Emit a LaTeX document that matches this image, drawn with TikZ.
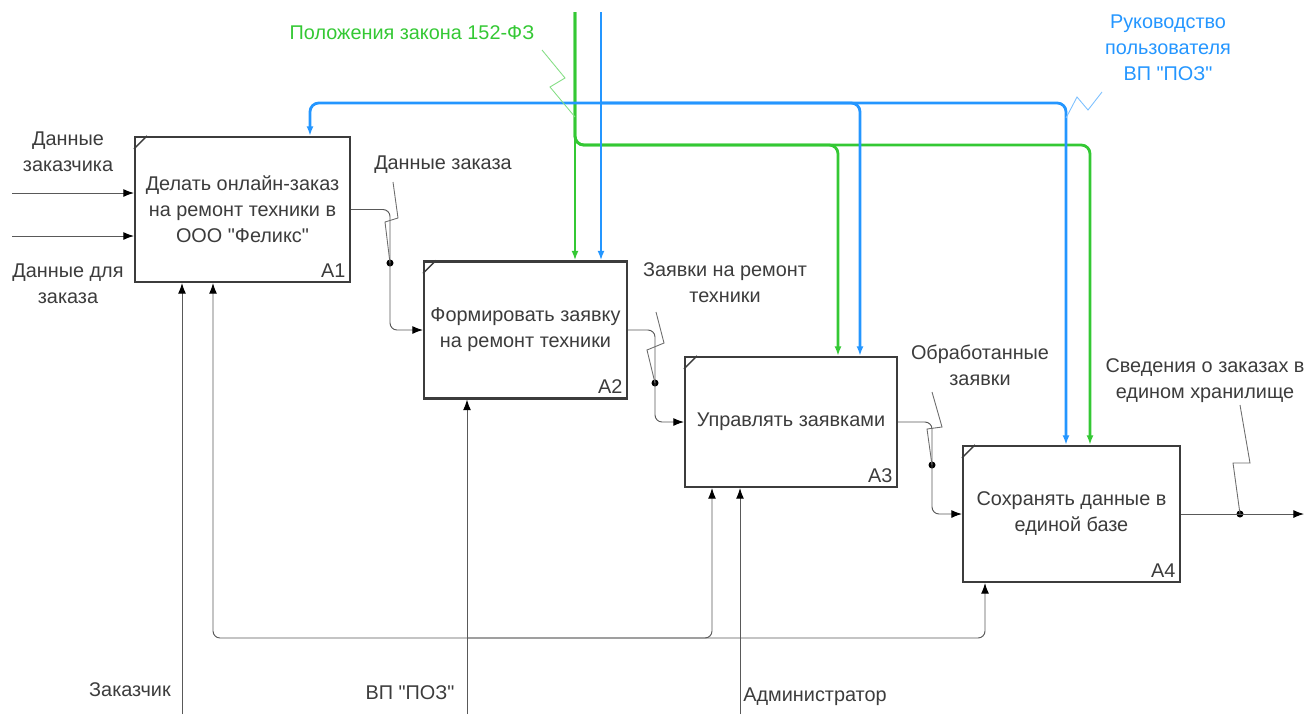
\documentclass[tikz,border=0pt]{standalone}
\usepackage{fontspec}
\setmainfont{Liberation Sans}
\usetikzlibrary{arrows.meta,calc}

\definecolor{ctlgreen}{RGB}{52,200,52}
\definecolor{ctlblue}{RGB}{36,150,255}
\definecolor{idefgray}{RGB}{60,60,60}
\newcommand\diagfont{\fontsize{11.3}{14.8}\selectfont}
\newcommand\qq{\textquotedbl}

\begin{document}
\begin{tikzpicture}[
    x=0.02cm, y=-0.02cm,
    >={Latex[length=5.5pt,width=4pt]},
    func/.style 2 args={
        rectangle,
        draw=idefgray,
        line width=1.2pt,
        fill=white,
        minimum width=#1,
        minimum height=#2,
        font=\diagfont,
        text=idefgray,
        align=center
    },
    lbl/.style={
        font=\diagfont,
        text=idefgray,
        align=center
    },
    flow/.style={-{Latex[length=6pt,width=4.5pt,color=black]},draw=idefgray!85,line width=0.55pt,rounded corners=4pt},
    gflow/.style={->,draw=ctlgreen,line width=1.6pt,rounded corners=5pt},
    bflow/.style={->,draw=ctlblue,line width=1.6pt,rounded corners=5pt},
    leader/.style={draw=idefgray!75,line width=0.5pt},
    dot/.style={circle,fill=black,inner sep=0pt,minimum size=4pt}
]
\useasboundingbox (0,0) rectangle (1304,714);

% Function boxes
\node[func={4.3cm}{2.9cm}] (A1) at (242.5,209.5) {Делать онлайн-заказ\\на ремонт техники в\\ООО \qq Феликс\qq};
\node[func={4.06cm}{2.74cm}] (A2) at (525.5,330) {Формировать заявку\\на ремонт техники};
\node[func={4.24cm}{2.6cm}] (A3) at (791,422) {Управлять заявками};
\node[func={4.34cm}{2.72cm}] (A4) at (1071.5,514) {Сохранять данные в\\единой базе};

% corner ticks and box numbers
\foreach \b in {A1,A2,A3,A4}{
    \draw[idefgray,line width=0.8pt] ($(\b.north west)+(0,13)$) -- ($(\b.north west)+(13,0)$);
    \node[anchor=south east,font=\diagfont,text=idefgray,inner sep=3pt] (n\b) at (\b.south east) {\b};
}

% Inputs
\coordinate (in1) at (12,193);
\coordinate (in2) at (12,236);
\draw[flow] (in1) -- (in1 -| A1.west);
\draw[flow] (in2) -- (in2 -| A1.west);
\node[lbl] (lCust) at (68,152) {Данные\\заказчика};
\node[lbl] (lData) at (68,284) {Данные для\\заказа};

% Outputs between boxes
\node[dot] (d1) at (390,263) {};
\node[dot] (d2) at (655,383) {};
\node[dot] (d3) at (932,465) {};
\node[dot] (d4) at (1240,514) {};
\coordinate (out) at (1304,514);
\draw[flow] (A1.east) -| (d1.center) |- (A2.west);
\draw[flow] (A2.east) -| (d2.center) |- (A3.west);
\draw[flow] (A3.east) -| (d3.center) |- (A4.west);
\draw[flow] (A4.east) -- (out);

\node[lbl] (lOrder) at (443,165) {Данные заказа};
\node[lbl] (lReq) at (725,283) {Заявки на ремонт\\техники};
\node[lbl] (lProc) at (980,365) {Обработанные\\заявки};
\node[lbl] (lStore) at (1205,381) {Сведения о заказах в\\едином хранилище};

% label leaders
\draw[leader] (393,182) -- (398,218) -- (385,222) -- (d1.center);
\draw[leader] (656,312) -- (664,343) -- (647,350) -- (d2.center);
\draw[leader] (932,392) -- (942,427) -- (927,429) -- (d3.center);
\draw[leader] (1240,405) -- (1250,463) -- (1233,463) -- (d4.center);

% Controls
\coordinate (gtop) at (575,12);
\coordinate (btop) at (601,12);
\coordinate (bbus) at (601,103);
\draw[gflow] (gtop) -- (gtop |- A2.north);
\draw[gflow] (gtop) |- (838,145) -- (838,0 |- A3.north);
\draw[gflow] (gtop) |- (1090,145) -- (1090,0 |- A4.north);
\draw[bflow] (btop) -- (btop |- A2.north);
\draw[bflow] (bbus) -| (A1.north -| 310,0);
\draw[bflow] (bbus) -| (A3.north -| 860,0);
\draw[bflow] (bbus) -| (A4.north -| 1066,0);

\node[lbl,text=ctlgreen] (lLaw) at (412,33) {Положения закона 152-ФЗ};
\node[lbl,text=ctlblue] (lMan) at (1168,48) {Руководство\\пользователя\\ВП \qq ПОЗ\qq};
\draw[ctlgreen!60,line width=0.5pt] (542,50) -- (565,78) -- (550,87) -- (gtop |- 0,117);
\draw[ctlblue!60,line width=0.5pt] (1102,92) -- (1088,110) -- (1077,97) -- (1066,118);

% Mechanisms
\coordinate (mCust) at (182,714);
\coordinate (mVP) at (467,714);
\coordinate (mAdm) at (740,714);
\coordinate (bus) at (467,638);
\draw[flow] (mCust) -- (mCust |- A1.south);
\draw[flow] (mVP) -- (mVP |- A2.south);
\draw[flow] (bus) -| (A1.south -| 213,0);
\draw[flow] (bus) -| (A3.south -| 712,0);
\draw[flow] (bus) -| (A4.south -| 985,0);
\draw[flow] (mAdm) -- (mAdm |- A3.south);

\node[lbl] (lCustomer) at (130,690) {Заказчик};
\node[lbl] (lVP) at (410,693) {ВП \qq ПОЗ\qq};
\node[lbl] (lAdm) at (815,697) {Администратор};

\end{tikzpicture}
\end{document}
